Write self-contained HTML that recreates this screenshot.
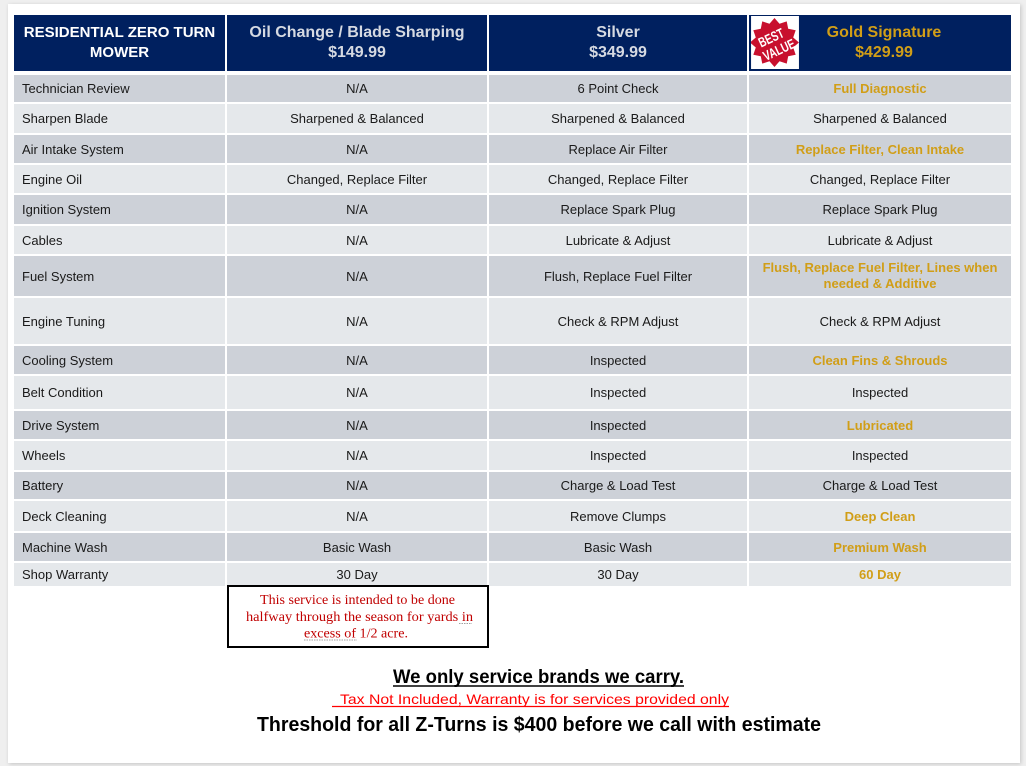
<!DOCTYPE html>
<html>
<head>
<meta charset="utf-8">
<style>
  html,body{margin:0;padding:0;}
  body{width:1026px;height:766px;background:#efefef;position:relative;overflow:hidden;font-family:"Liberation Sans",Arial,sans-serif;}
  .card{position:absolute;left:8px;top:4px;width:1012px;height:759px;background:#fff;box-shadow:1px 1px 4px rgba(0,0,0,0.18);}
  .c{position:absolute;display:flex;align-items:center;justify-content:center;text-align:center;font-size:13px;color:#1a1a1a;white-space:nowrap;box-sizing:border-box;}
  .l{justify-content:flex-start;padding-left:8px;}
  .d{background:#cdd1d8;}
  .w{background:#e5e8eb;}
  .g{color:#d19e17;font-weight:bold;}
  .h{background:#00205f;font-weight:bold;font-size:16px;line-height:20px;}
  .box{position:absolute;left:227px;top:585px;width:262px;height:63px;border:2px solid #000;box-sizing:border-box;background:#fff;}
</style>
</head>
<body>
<div class="card"></div>

<!-- Header -->
<div class="c h" style="left:14px;top:15px;width:211px;height:56px;color:#fff;font-size:15px;">RESIDENTIAL ZERO TURN<br>MOWER</div>
<div class="c h" style="left:227px;top:15px;width:260px;height:56px;color:#d6dae2;">Oil Change / Blade Sharping<br>$149.99</div>
<div class="c h" style="left:489px;top:15px;width:258px;height:56px;color:#d6dae2;">Silver<br>$349.99</div>
<div class="c h" style="left:749px;top:15px;width:262px;height:56px;color:#d19e17;padding-left:8px;">Gold Signature<br>$429.99</div>
<svg style="position:absolute;left:751px;top:16px;" width="48" height="53" viewBox="0 0 47 52">
  <rect x="0" y="0" width="47" height="52" fill="#fff"/>
  <polygon fill="#c8102e" points="23,2 27.92,7.65 35,5.22 36.43,12.57 43.78,14 41.35,21.08 47,26 41.35,30.92 43.78,38 36.43,39.43 35,46.78 27.92,44.35 23,50 18.08,44.35 11,46.78 9.57,39.43 2.22,38 4.65,30.92 -1,26 4.65,21.08 2.22,14 9.57,12.57 11,5.22 18.08,7.65"/>
  <g transform="rotate(-25 23 26)" font-family="Liberation Sans, sans-serif" font-weight="bold" fill="#fff" text-anchor="middle">
    <text x="22" y="25" font-size="13.5" textLength="26" lengthAdjust="spacingAndGlyphs">BEST</text>
    <text x="24" y="39" font-size="13.5" textLength="33" lengthAdjust="spacingAndGlyphs">VALUE</text>
  </g>
</svg>

<!-- Rows -->
<!-- 1 -->
<div class="c l d" style="left:14px;top:75px;width:211px;height:27px;">Technician Review</div>
<div class="c d" style="left:227px;top:75px;width:260px;height:27px;">N/A</div>
<div class="c d" style="left:489px;top:75px;width:258px;height:27px;">6 Point Check</div>
<div class="c d g" style="left:749px;top:75px;width:262px;height:27px;">Full Diagnostic</div>
<!-- 2 -->
<div class="c l w" style="left:14px;top:104px;width:211px;height:29px;">Sharpen Blade</div>
<div class="c w" style="left:227px;top:104px;width:260px;height:29px;">Sharpened &amp; Balanced</div>
<div class="c w" style="left:489px;top:104px;width:258px;height:29px;">Sharpened &amp; Balanced</div>
<div class="c w" style="left:749px;top:104px;width:262px;height:29px;">Sharpened &amp; Balanced</div>
<!-- 3 -->
<div class="c l d" style="left:14px;top:135px;width:211px;height:28px;">Air Intake System</div>
<div class="c d" style="left:227px;top:135px;width:260px;height:28px;">N/A</div>
<div class="c d" style="left:489px;top:135px;width:258px;height:28px;">Replace Air Filter</div>
<div class="c d g" style="left:749px;top:135px;width:262px;height:28px;">Replace Filter, Clean Intake</div>
<!-- 4 -->
<div class="c l w" style="left:14px;top:165px;width:211px;height:28px;">Engine Oil</div>
<div class="c w" style="left:227px;top:165px;width:260px;height:28px;">Changed, Replace Filter</div>
<div class="c w" style="left:489px;top:165px;width:258px;height:28px;">Changed, Replace Filter</div>
<div class="c w" style="left:749px;top:165px;width:262px;height:28px;">Changed, Replace Filter</div>
<!-- 5 -->
<div class="c l d" style="left:14px;top:195px;width:211px;height:29px;">Ignition System</div>
<div class="c d" style="left:227px;top:195px;width:260px;height:29px;">N/A</div>
<div class="c d" style="left:489px;top:195px;width:258px;height:29px;">Replace Spark Plug</div>
<div class="c d" style="left:749px;top:195px;width:262px;height:29px;">Replace Spark Plug</div>
<!-- 6 -->
<div class="c l w" style="left:14px;top:226px;width:211px;height:28px;">Cables</div>
<div class="c w" style="left:227px;top:226px;width:260px;height:28px;">N/A</div>
<div class="c w" style="left:489px;top:226px;width:258px;height:28px;">Lubricate &amp; Adjust</div>
<div class="c w" style="left:749px;top:226px;width:262px;height:28px;">Lubricate &amp; Adjust</div>
<!-- 7 -->
<div class="c l d" style="left:14px;top:256px;width:211px;height:40px;">Fuel System</div>
<div class="c d" style="left:227px;top:256px;width:260px;height:40px;">N/A</div>
<div class="c d" style="left:489px;top:256px;width:258px;height:40px;">Flush, Replace Fuel Filter</div>
<div class="c d g" style="left:749px;top:256px;width:262px;height:40px;line-height:16px;">Flush, Replace Fuel Filter, Lines when<br>needed &amp; Additive</div>
<!-- 8 -->
<div class="c l w" style="left:14px;top:298px;width:211px;height:46px;">Engine Tuning</div>
<div class="c w" style="left:227px;top:298px;width:260px;height:46px;">N/A</div>
<div class="c w" style="left:489px;top:298px;width:258px;height:46px;">Check &amp; RPM Adjust</div>
<div class="c w" style="left:749px;top:298px;width:262px;height:46px;">Check &amp; RPM Adjust</div>
<!-- 9 -->
<div class="c l d" style="left:14px;top:346px;width:211px;height:28px;">Cooling System</div>
<div class="c d" style="left:227px;top:346px;width:260px;height:28px;">N/A</div>
<div class="c d" style="left:489px;top:346px;width:258px;height:28px;">Inspected</div>
<div class="c d g" style="left:749px;top:346px;width:262px;height:28px;">Clean Fins &amp; Shrouds</div>
<!-- 10 -->
<div class="c l w" style="left:14px;top:376px;width:211px;height:33px;">Belt Condition</div>
<div class="c w" style="left:227px;top:376px;width:260px;height:33px;">N/A</div>
<div class="c w" style="left:489px;top:376px;width:258px;height:33px;">Inspected</div>
<div class="c w" style="left:749px;top:376px;width:262px;height:33px;">Inspected</div>
<!-- 11 -->
<div class="c l d" style="left:14px;top:411px;width:211px;height:28px;">Drive System</div>
<div class="c d" style="left:227px;top:411px;width:260px;height:28px;">N/A</div>
<div class="c d" style="left:489px;top:411px;width:258px;height:28px;">Inspected</div>
<div class="c d g" style="left:749px;top:411px;width:262px;height:28px;">Lubricated</div>
<!-- 12 -->
<div class="c l w" style="left:14px;top:441px;width:211px;height:29px;">Wheels</div>
<div class="c w" style="left:227px;top:441px;width:260px;height:29px;">N/A</div>
<div class="c w" style="left:489px;top:441px;width:258px;height:29px;">Inspected</div>
<div class="c w" style="left:749px;top:441px;width:262px;height:29px;">Inspected</div>
<!-- 13 -->
<div class="c l d" style="left:14px;top:472px;width:211px;height:27px;">Battery</div>
<div class="c d" style="left:227px;top:472px;width:260px;height:27px;">N/A</div>
<div class="c d" style="left:489px;top:472px;width:258px;height:27px;">Charge &amp; Load Test</div>
<div class="c d" style="left:749px;top:472px;width:262px;height:27px;">Charge &amp; Load Test</div>
<!-- 14 -->
<div class="c l w" style="left:14px;top:501px;width:211px;height:30px;">Deck Cleaning</div>
<div class="c w" style="left:227px;top:501px;width:260px;height:30px;">N/A</div>
<div class="c w" style="left:489px;top:501px;width:258px;height:30px;">Remove Clumps</div>
<div class="c w g" style="left:749px;top:501px;width:262px;height:30px;">Deep Clean</div>
<!-- 15 -->
<div class="c l d" style="left:14px;top:533px;width:211px;height:28px;">Machine Wash</div>
<div class="c d" style="left:227px;top:533px;width:260px;height:28px;">Basic Wash</div>
<div class="c d" style="left:489px;top:533px;width:258px;height:28px;">Basic Wash</div>
<div class="c d g" style="left:749px;top:533px;width:262px;height:28px;">Premium Wash</div>
<!-- 16 -->
<div class="c l w" style="left:14px;top:563px;width:211px;height:23px;">Shop Warranty</div>
<div class="c w" style="left:227px;top:563px;width:260px;height:23px;">30 Day</div>
<div class="c w" style="left:489px;top:563px;width:258px;height:23px;">30 Day</div>
<div class="c w g" style="left:749px;top:563px;width:262px;height:23px;">60 Day</div>

<!-- Note box -->
<div class="box"></div>

<svg style="position:absolute;left:0;top:0;" width="1026" height="766" viewBox="0 0 1026 766">
  <g font-family="Liberation Serif, serif" font-size="13.5" fill="#c00000">
    <text x="260" y="604" textLength="195" lengthAdjust="spacingAndGlyphs">This service is intended to be done</text>
    <text x="246" y="621" textLength="227" lengthAdjust="spacingAndGlyphs">halfway through the season for yards in</text>
    <text x="304" y="637.5" textLength="104" lengthAdjust="spacingAndGlyphs">excess of 1/2 acre.</text>
  </g>
  <line x1="459" y1="623.5" x2="472" y2="623.5" stroke="#a0a0a0" stroke-width="1" stroke-dasharray="1.5,1"/>
  <line x1="304" y1="640" x2="357" y2="640" stroke="#a0a0a0" stroke-width="1" stroke-dasharray="1.5,1"/>

  <text x="393" y="683" font-family="Liberation Sans, sans-serif" font-weight="bold" font-size="19" fill="#000" textLength="291" lengthAdjust="spacingAndGlyphs">We only service brands we carry.</text>
  <line x1="393" y1="686" x2="684" y2="686" stroke="#000" stroke-width="1.4"/>

  <text x="340" y="704" font-family="Liberation Sans, sans-serif" font-size="14" fill="#ff0000" textLength="389" lengthAdjust="spacingAndGlyphs">Tax Not Included, Warranty is for services provided only</text>
  <line x1="332" y1="706.5" x2="729" y2="706.5" stroke="#ff0000" stroke-width="1.2"/>

  <text x="257" y="731" font-family="Liberation Sans, sans-serif" font-weight="bold" font-size="20.5" fill="#000" textLength="564" lengthAdjust="spacingAndGlyphs">Threshold for all Z-Turns is $400 before we call with estimate</text>
</svg>
</body>
</html>
